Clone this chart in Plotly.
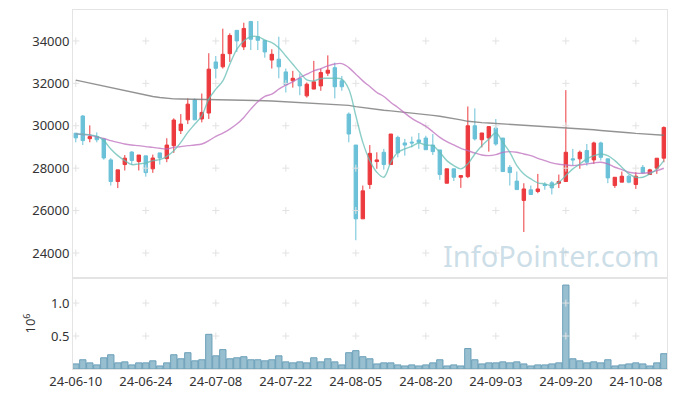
import plotly.graph_objects as go
from plotly.subplots import make_subplots

dates = ["24-06-10","24-06-11","24-06-12","24-06-13","24-06-14","24-06-17","24-06-18","24-06-19","24-06-20","24-06-21",
         "24-06-24","24-06-25","24-06-26","24-06-27","24-06-28","24-07-01","24-07-02","24-07-03","24-07-04","24-07-05",
         "24-07-08","24-07-09","24-07-10","24-07-11","24-07-12","24-07-15","24-07-16","24-07-17","24-07-18","24-07-19",
         "24-07-22","24-07-23","24-07-24","24-07-25","24-07-26","24-07-29","24-07-30","24-07-31","24-08-01","24-08-02",
         "24-08-05","24-08-06","24-08-07","24-08-08","24-08-09","24-08-12","24-08-13","24-08-14","24-08-16","24-08-19",
         "24-08-20","24-08-21","24-08-22","24-08-23","24-08-26","24-08-27","24-08-28","24-08-29","24-08-30","24-09-02",
         "24-09-03","24-09-04","24-09-05","24-09-06","24-09-09","24-09-10","24-09-11","24-09-12","24-09-13","24-09-19",
         "24-09-20","24-09-23","24-09-24","24-09-25","24-09-26","24-09-27","24-09-30","24-10-02","24-10-04","24-10-07",
         "24-10-08","24-10-10","24-10-11","24-10-14","24-10-15"]

opens = [29650,30460,29390,29490,29380,28390,27370,28170,28760,28310,
         28580,27970,28720,28450,29060,29770,30280,31220,30320,30600,
         33010,32780,33400,34500,33720,34920,34200,34030,33100,33140,
         32540,32120,32230,31410,31730,31880,32480,32740,32120,30550,
         29090,25610,27230,28310,28750,28170,29450,29190,29230,29330,
         29420,29090,28860,27290,27970,27570,27600,30000,29340,29420,
         29890,29420,28040,27390,26480,26980,26900,27230,27310,27290,
         27370,28440,28440,28830,28390,29190,28440,27180,27340,27620,
         27230,28040,27700,28000,28470]
highs = [29660,30500,30020,29690,29400,28470,27920,28620,28800,28620,
         28580,28640,28720,29410,30350,30550,31290,31290,31520,33420,
         33290,34580,34360,34500,34860,34920,34940,34030,33610,34200,
         32700,32590,32460,32040,33060,32700,33320,32980,32350,30630,
         29090,27180,29090,28750,28910,29610,29530,29380,29490,29660,
         29530,29610,28860,27970,27970,27650,30910,30820,29660,29970,
         30320,29420,28150,27840,27290,27180,27730,27340,27390,27700,
         31680,28910,28830,29140,29250,29250,28440,27570,27840,27680,
         27810,28150,27970,28470,29970]
lows = [29220,29090,29220,29220,28400,27180,27060,27890,28150,27890,
        27600,27780,28170,28280,28720,29610,30080,30280,30160,30320,
        32230,32700,33010,33480,33570,33570,33570,33210,32700,32240,
        31570,31800,31440,31330,31730,31650,32350,31290,31650,29220,
        24600,25610,27020,27970,27930,28170,28510,28590,28980,28910,
        28870,28620,27450,27290,27390,27070,27530,29300,28980,28780,
        29060,27840,27180,26990,24990,26760,26820,26980,26760,27060,
        27370,28120,27970,28120,28200,28360,27290,27070,27340,27290,
        27020,27730,27700,27730,28280]
closes = [29430,29300,29490,29340,28480,27370,27920,28470,28360,28620,
          27790,28480,28480,29090,30270,30080,31020,30280,30630,32670,
          32710,33370,34260,34000,34590,34080,34030,33480,33370,32780,
          31930,32240,31880,31960,32070,32510,32620,31840,31840,29610,
          25610,26930,28700,28390,28170,29610,28720,29090,29190,29220,
          28870,28780,27700,27970,27570,27650,30000,29380,29660,29960,
          29140,27840,27790,26990,27020,26760,27020,27180,27070,27370,
          28750,28390,28750,28280,29190,28510,27540,27570,27620,27340,
          27620,27780,27920,28470,29920]

ma5 = [29610,29600,29570,29510,29300,28905,28590,28356,28168,28200,
       28250,28356,28403,28560,28826,29218,29688,30080,30472,31255,
       31725,32117,32900,33606,33997,34201,34201,34044,33919,33684,
       33292,32900,32509,32164,32117,32227,32240,32240,32195,31725,
       30472,29218,28356,27808,27573,28278,28748,28905,29030,29187,
       29090,29061,28748,28356,28121,27965,28199,28670,29061,29375,
       29657,29218,28748,28121,27729,27494,27307,27260,27181,27338,
       27651,27965,28199,28435,28591,28670,28591,28356,28043,27729,
       27573,27573,27729,27965,28356]
ma20 = [29610,29590,29563,29470,29406,29296,29218,29140,29093,29061,
        29014,28983,28936,28905,28983,29014,29061,29093,29140,29296,
        29500,29657,29845,30080,30393,30785,31130,31381,31490,31725,
        31913,32070,32274,32430,32587,32697,32822,32916,32932,32744,
        32430,32117,31850,31569,31381,31099,30863,30597,30346,30158,
        29970,29720,29453,29250,29093,28936,28826,28717,28623,28591,
        28638,28748,28779,28748,28670,28591,28466,28356,28247,28184,
        28153,28121,28153,28200,28247,28278,28200,28043,27933,27808,
        27761,27761,27808,27886,27996]
ma120 = [32150,32080,32010,31940,31870,31790,31710,31630,31560,31490,
         31430,31380,31330,31290,31270,31260,31255,31250,31250,31250,
         31245,31240,31230,31220,31210,31200,31190,31180,31170,31150,
         31130,31110,31090,31070,31050,31040,31030,31020,31000,30960,
         30900,30850,30810,30770,30730,30700,30670,30630,30600,30570,
         30530,30490,30450,30400,30340,30280,30210,30170,30150,30130,
         30110,30090,30070,30050,30030,30010,29990,29970,29950,29930,
         29920,29900,29870,29840,29810,29780,29760,29730,29700,29670,
         29640,29610,29590,29570,29550]
volume = [0.077,0.14,0.093,0.062,0.17,0.216,0.093,0.108,0.062,0.093,
          0.093,0.124,0.046,0.093,0.216,0.155,0.247,0.124,0.14,0.526,
          0.2,0.294,0.155,0.17,0.186,0.14,0.14,0.124,0.14,0.2,
          0.108,0.093,0.108,0.093,0.17,0.108,0.155,0.108,0.062,0.247,
          0.278,0.186,0.155,0.077,0.093,0.093,0.062,0.046,0.062,0.046,
          0.062,0.093,0.14,0.046,0.062,0.046,0.31,0.14,0.077,0.093,
          0.093,0.108,0.093,0.108,0.077,0.046,0.062,0.062,0.077,0.093,
          1.273,0.155,0.124,0.093,0.108,0.093,0.14,0.046,0.062,0.077,
          0.093,0.077,0.046,0.093,0.232]

price_ticks = [24000, 26000, 28000, 30000, 32000, 34000]
volume_ticks = [0.5, 1.0]
date_ticks = dates[::10]
watermark = "InfoPointer.com"

RED = "#ec3a3e"
BLUE = "#6ac1d8"
FONT = "Noto Sans"
BORDER = "#e4e4e4"
CROSS = "#e2e2e2"

fig = make_subplots(rows=2, cols=1, shared_xaxes=True, vertical_spacing=0,
                    row_heights=[0.7465, 0.2535])

# grid crosses at tick intersections
gx = [d for d in date_ticks for _ in price_ticks]
gy = [p for _ in date_ticks for p in price_ticks]
fig.add_trace(go.Scatter(x=gx, y=gy, mode="markers",
                         marker=dict(symbol="cross-thin", size=5, line=dict(color=CROSS, width=1)),
                         hoverinfo="skip", showlegend=False), row=1, col=1)
vx = [d for d in date_ticks for _ in volume_ticks]
vy = [p for _ in date_ticks for p in volume_ticks]
fig.add_trace(go.Scatter(x=vx, y=vy, mode="markers",
                         marker=dict(symbol="cross-thin", size=5, line=dict(color=CROSS, width=1)),
                         hoverinfo="skip", showlegend=False), row=2, col=1)

fig.add_trace(go.Candlestick(x=dates, open=opens, high=highs, low=lows, close=closes,
                             increasing=dict(line=dict(color=RED, width=1), fillcolor=RED),
                             decreasing=dict(line=dict(color=BLUE, width=1), fillcolor=BLUE),
                             whiskerwidth=0, showlegend=False, hoverinfo="skip"), row=1, col=1)

fig.add_trace(go.Scatter(x=dates, y=ma120, mode="lines", line=dict(color="rgba(120,120,120,0.8)", width=1.4),
                         showlegend=False, hoverinfo="skip"), row=1, col=1)
fig.add_trace(go.Scatter(x=dates, y=ma20, mode="lines", line=dict(color="rgba(190,110,190,0.75)", width=1.4, shape="spline"),
                         showlegend=False, hoverinfo="skip"), row=1, col=1)
fig.add_trace(go.Scatter(x=dates, y=ma5, mode="lines", line=dict(color="rgba(100,190,180,0.75)", width=1.4, shape="spline"),
                         showlegend=False, hoverinfo="skip"), row=1, col=1)

fig.add_trace(go.Bar(x=dates, y=volume, marker=dict(color="#98bfd0", line=dict(color="#6a9fb8", width=1)),
                     showlegend=False, hoverinfo="skip"), row=2, col=1)

axis_common = dict(showline=True, mirror=True, linecolor=BORDER, linewidth=1, showgrid=False, zeroline=False,
                   tickfont=dict(family=FONT, size=13, color="#333"), ticks="", automargin=False)

fig.update_xaxes(type="category", categoryorder="array", categoryarray=dates,
                 range=[-0.4, 84.45], rangeslider=dict(visible=False), **axis_common)
fig.update_xaxes(showticklabels=False, row=1, col=1)
fig.update_xaxes(tickvals=date_ticks, ticktext=date_ticks, showticklabels=True, tickangle=0, row=2, col=1)
fig.update_yaxes(**axis_common)
fig.update_yaxes(range=[22820, 35460], tickvals=price_ticks, tickformat="d", row=1, col=1)
fig.update_yaxes(range=[0, 1.38], tickvals=volume_ticks, tickformat=".1f",
                 title=dict(text="10<sup>6</sup>", font=dict(family=FONT, size=13, color="#333"), standoff=12),
                 row=2, col=1)

fig.add_annotation(text=watermark, xref="paper", yref="paper", x=0.99, y=0.315,
                   xanchor="right", yanchor="middle", showarrow=False,
                   font=dict(family=FONT, size=29, color="rgba(170,200,215,0.6)"))

fig.update_layout(width=677, height=396, margin=dict(l=73, r=10, t=10, b=27),
                  paper_bgcolor="white", plot_bgcolor="white", bargap=0.1,
                  font=dict(family=FONT), hovermode=False)

fig.write_html("out.html", config={"displayModeBar": False},
               post_script="document.body.style.margin='0';document.body.style.padding='0';")
